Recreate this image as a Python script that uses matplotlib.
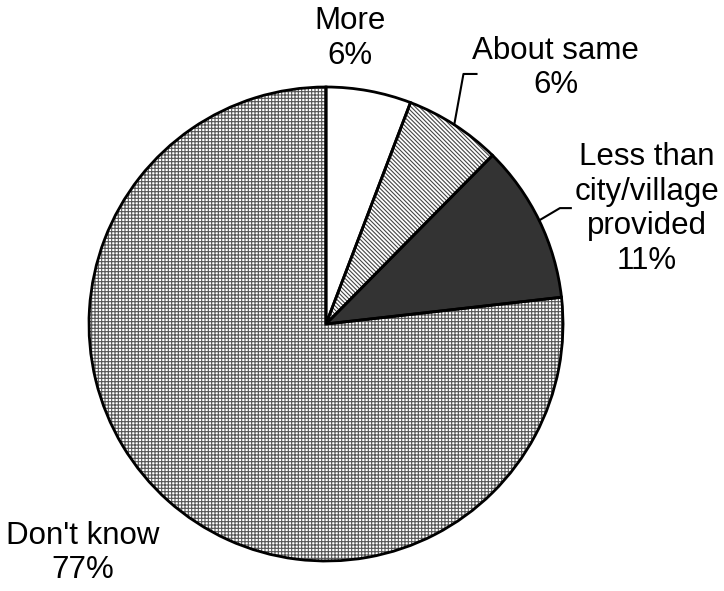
import numpy as np
import matplotlib
matplotlib.use("Agg")
import matplotlib.pyplot as plt

plt.rcParams['font.family'] = ['Liberation Sans', 'DejaVu Sans']
plt.rcParams['hatch.linewidth'] = 0.8

# slice data, clockwise from 12 o'clock
labels = ["More", "About same", "Less than\ncity/village\nprovided", "Don't know"]
values = [5.8, 6.6, 10.8, 76.8]
shown_pct = ["6%", "6%", "11%", "77%"]

fills = ["white", "white", "#333333", "white"]
hatches = [None, "\\\\\\\\\\\\\\\\", None, "+++++"]
hatch_cols = ["white", "#444444", "#333333", "#555555"]

# label centres (data coords, pie radius = 1)
label_pos = [(0.10, 1.205), (0.97, 1.08), (1.354, 0.485), (-1.025, -0.966)]

fig = plt.figure(figsize=(7.24, 5.91), dpi=100)
r_px, cx, cy = 237, 326, 324
ax = fig.add_axes([(cx - r_px) / 724, (591 - cy - r_px) / 591, 2 * r_px / 724, 2 * r_px / 591])

# fill + hatch layer
wedges, _ = ax.pie(values, startangle=90, counterclock=False, radius=1,
                   colors=fills, wedgeprops=dict(linewidth=0))
for w, h, hc in zip(wedges, hatches, hatch_cols):
    w.set_edgecolor(hc)
    if h:
        w.set_hatch(h)

# outline layer
outl, _ = ax.pie(values, startangle=90, counterclock=False, radius=1,
                 wedgeprops=dict(fill=False, edgecolor="black", linewidth=2))

ax.set_xlim(-1, 1)
ax.set_ylim(-1, 1)
ax.set_aspect("equal")
ax.axis("off")

for lab, pct, (x, y) in zip(labels, shown_pct, label_pos):
    ax.text(x, y, lab + "\n" + pct, ha="center", va="center", fontsize=22.5,
            linespacing=1.2, clip_on=False)

# leader lines from slice middles
def mid_point(w):
    a = np.deg2rad((w.theta1 + w.theta2) / 2)
    return np.cos(a), np.sin(a)

x0, y0 = mid_point(outl[1])
ax.plot([x0, 0.58, 0.635], [y0, 1.055, 1.055], color="black", lw=1.5, clip_on=False)
x0, y0 = mid_point(outl[2])
ax.plot([x0, 0.987, 1.033], [y0, 0.489, 0.489], color="black", lw=1.5, clip_on=False)

fig.savefig("out.png", dpi=100)
